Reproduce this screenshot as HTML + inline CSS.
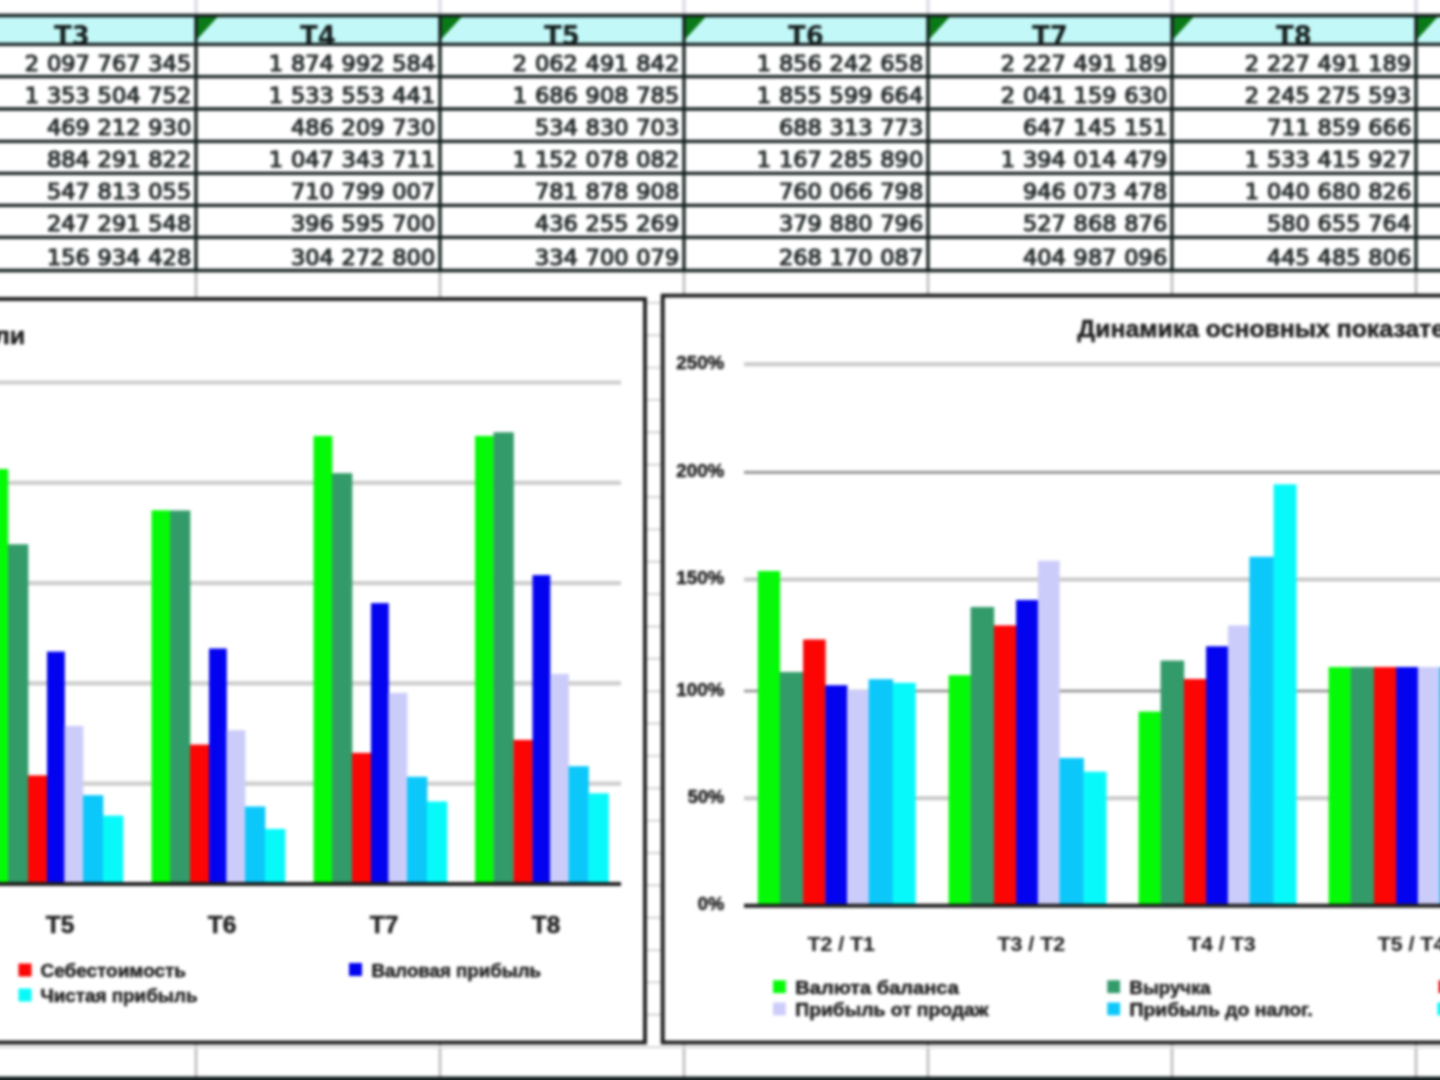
<!DOCTYPE html>
<html lang="ru"><head><meta charset="utf-8"><title>Sheet</title>
<style>
html,body{margin:0;padding:0;background:#fff;}
body{width:1440px;height:1080px;overflow:hidden;position:relative;}
svg{display:block;position:absolute;left:-30px;top:-30px;filter:blur(1.4px);}
</style></head><body>
<svg width="1500" height="1140" viewBox="-30 -30 1500 1140">
<rect x="-30" y="-30" width="1500" height="1140" fill="#fff"/>
<g stroke="#bcbcbc" stroke-width="2.6">
<line x1="196" y1="200" x2="196" y2="1110"/>
<line x1="440" y1="200" x2="440" y2="1110"/>
<line x1="684" y1="200" x2="684" y2="1110"/>
<line x1="928" y1="200" x2="928" y2="1110"/>
<line x1="1172" y1="200" x2="1172" y2="1110"/>
<line x1="1416" y1="200" x2="1416" y2="1110"/>
</g>
<g stroke="#e2dcea" stroke-width="3.6">
<line x1="196" y1="-30" x2="196" y2="14"/>
<line x1="440" y1="-30" x2="440" y2="14"/>
<line x1="684" y1="-30" x2="684" y2="14"/>
<line x1="928" y1="-30" x2="928" y2="14"/>
<line x1="1172" y1="-30" x2="1172" y2="14"/>
<line x1="1416" y1="-30" x2="1416" y2="14"/>
</g>
<g stroke="#dadada" stroke-width="2.4">
<line x1="-30" y1="302.9" x2="1470" y2="302.9"/>
<line x1="-30" y1="335.2" x2="1470" y2="335.2"/>
<line x1="-30" y1="367.6" x2="1470" y2="367.6"/>
<line x1="-30" y1="399.9" x2="1470" y2="399.9"/>
<line x1="-30" y1="432.3" x2="1470" y2="432.3"/>
<line x1="-30" y1="464.7" x2="1470" y2="464.7"/>
<line x1="-30" y1="497.0" x2="1470" y2="497.0"/>
<line x1="-30" y1="529.4" x2="1470" y2="529.4"/>
<line x1="-30" y1="561.7" x2="1470" y2="561.7"/>
<line x1="-30" y1="594.1" x2="1470" y2="594.1"/>
<line x1="-30" y1="626.5" x2="1470" y2="626.5"/>
<line x1="-30" y1="658.8" x2="1470" y2="658.8"/>
<line x1="-30" y1="691.2" x2="1470" y2="691.2"/>
<line x1="-30" y1="723.5" x2="1470" y2="723.5"/>
<line x1="-30" y1="755.9" x2="1470" y2="755.9"/>
<line x1="-30" y1="788.3" x2="1470" y2="788.3"/>
<line x1="-30" y1="820.6" x2="1470" y2="820.6"/>
<line x1="-30" y1="853.0" x2="1470" y2="853.0"/>
<line x1="-30" y1="885.3" x2="1470" y2="885.3"/>
<line x1="-30" y1="917.7" x2="1470" y2="917.7"/>
<line x1="-30" y1="950.1" x2="1470" y2="950.1"/>
<line x1="-30" y1="982.4" x2="1470" y2="982.4"/>
<line x1="-30" y1="1014.8" x2="1470" y2="1014.8"/>
<line x1="-30" y1="1047.1" x2="1470" y2="1047.1"/>
</g>
<rect x="-30" y="15.5" width="1500" height="255.0" fill="#fff"/>
<rect x="-30" y="15.5" width="1500" height="28.9" fill="#c2f9f8"/>
<polygon points="196,15.5 219,15.5 196,40.5" fill="#0a7a18"/>
<polygon points="440,15.5 463,15.5 440,40.5" fill="#0a7a18"/>
<polygon points="684,15.5 707,15.5 684,40.5" fill="#0a7a18"/>
<polygon points="928,15.5 951,15.5 928,40.5" fill="#0a7a18"/>
<polygon points="1172,15.5 1195,15.5 1172,40.5" fill="#0a7a18"/>
<polygon points="1416,15.5 1439,15.5 1416,40.5" fill="#0a7a18"/>
<g font-family="'DejaVu Sans','Liberation Sans',sans-serif" font-weight="bold" font-size="26" fill="#141c1c" text-anchor="middle">
<text x="72" y="45">T3</text>
<text x="318.0" y="45">T4</text>
<text x="562.0" y="45">T5</text>
<text x="806.0" y="45">T6</text>
<text x="1050.0" y="45">T7</text>
<text x="1294.0" y="45">T8</text>
</g>
<g font-family="'DejaVu Sans','Liberation Sans',sans-serif" font-size="22.5" fill="#262c2c" stroke="#262c2c" stroke-width="1.2" text-anchor="end" word-spacing="0.6">
<text transform="translate(191.2,70.7) scale(1,0.92)">2 097 767 345</text>
<text transform="translate(435.2,70.7) scale(1,0.92)">1 874 992 584</text>
<text transform="translate(679.2,70.7) scale(1,0.92)">2 062 491 842</text>
<text transform="translate(923.2,70.7) scale(1,0.92)">1 856 242 658</text>
<text transform="translate(1167.2,70.7) scale(1,0.92)">2 227 491 189</text>
<text transform="translate(1411.2,70.7) scale(1,0.92)">2 227 491 189</text>
<text transform="translate(191.2,103.0) scale(1,0.92)">1 353 504 752</text>
<text transform="translate(435.2,103.0) scale(1,0.92)">1 533 553 441</text>
<text transform="translate(679.2,103.0) scale(1,0.92)">1 686 908 785</text>
<text transform="translate(923.2,103.0) scale(1,0.92)">1 855 599 664</text>
<text transform="translate(1167.2,103.0) scale(1,0.92)">2 041 159 630</text>
<text transform="translate(1411.2,103.0) scale(1,0.92)">2 245 275 593</text>
<text transform="translate(191.2,135.3) scale(1,0.92)">469 212 930</text>
<text transform="translate(435.2,135.3) scale(1,0.92)">486 209 730</text>
<text transform="translate(679.2,135.3) scale(1,0.92)">534 830 703</text>
<text transform="translate(923.2,135.3) scale(1,0.92)">688 313 773</text>
<text transform="translate(1167.2,135.3) scale(1,0.92)">647 145 151</text>
<text transform="translate(1411.2,135.3) scale(1,0.92)">711 859 666</text>
<text transform="translate(191.2,167.4) scale(1,0.92)">884 291 822</text>
<text transform="translate(435.2,167.4) scale(1,0.92)">1 047 343 711</text>
<text transform="translate(679.2,167.4) scale(1,0.92)">1 152 078 082</text>
<text transform="translate(923.2,167.4) scale(1,0.92)">1 167 285 890</text>
<text transform="translate(1167.2,167.4) scale(1,0.92)">1 394 014 479</text>
<text transform="translate(1411.2,167.4) scale(1,0.92)">1 533 415 927</text>
<text transform="translate(191.2,199.4) scale(1,0.92)">547 813 055</text>
<text transform="translate(435.2,199.4) scale(1,0.92)">710 799 007</text>
<text transform="translate(679.2,199.4) scale(1,0.92)">781 878 908</text>
<text transform="translate(923.2,199.4) scale(1,0.92)">760 066 798</text>
<text transform="translate(1167.2,199.4) scale(1,0.92)">946 073 478</text>
<text transform="translate(1411.2,199.4) scale(1,0.92)">1 040 680 826</text>
<text transform="translate(191.2,231.4) scale(1,0.92)">247 291 548</text>
<text transform="translate(435.2,231.4) scale(1,0.92)">396 595 700</text>
<text transform="translate(679.2,231.4) scale(1,0.92)">436 255 269</text>
<text transform="translate(923.2,231.4) scale(1,0.92)">379 880 796</text>
<text transform="translate(1167.2,231.4) scale(1,0.92)">527 868 876</text>
<text transform="translate(1411.2,231.4) scale(1,0.92)">580 655 764</text>
<text transform="translate(191.2,265.3) scale(1,0.92)">156 934 428</text>
<text transform="translate(435.2,265.3) scale(1,0.92)">304 272 800</text>
<text transform="translate(679.2,265.3) scale(1,0.92)">334 700 079</text>
<text transform="translate(923.2,265.3) scale(1,0.92)">268 170 087</text>
<text transform="translate(1167.2,265.3) scale(1,0.92)">404 987 096</text>
<text transform="translate(1411.2,265.3) scale(1,0.92)">445 485 806</text>
</g>
<g stroke="#141e1e" stroke-width="3.3">
<line x1="-30" y1="15.5" x2="1470" y2="15.5"/>
<line x1="-30" y1="44.4" x2="1470" y2="44.4"/>
<line x1="-30" y1="76.7" x2="1470" y2="76.7"/>
<line x1="-30" y1="109" x2="1470" y2="109"/>
<line x1="-30" y1="141.3" x2="1470" y2="141.3"/>
<line x1="-30" y1="173.4" x2="1470" y2="173.4"/>
<line x1="-30" y1="205.4" x2="1470" y2="205.4"/>
<line x1="-30" y1="237.4" x2="1470" y2="237.4"/>
<line x1="-30" y1="270.5" x2="1470" y2="270.5"/>
<line x1="196" y1="15.5" x2="196" y2="270.5"/>
<line x1="440" y1="15.5" x2="440" y2="270.5"/>
<line x1="684" y1="15.5" x2="684" y2="270.5"/>
<line x1="928" y1="15.5" x2="928" y2="270.5"/>
<line x1="1172" y1="15.5" x2="1172" y2="270.5"/>
<line x1="1416" y1="15.5" x2="1416" y2="270.5"/>
</g>
<rect x="-60" y="299.0" width="705" height="743.5" fill="#fff" stroke="#1e1e1e" stroke-width="3.9"/>
<g stroke="#cdcdcd" stroke-width="4.2">
<line x1="-30" y1="783.7" x2="621" y2="783.7"/>
<line x1="-30" y1="683.4" x2="621" y2="683.4"/>
<line x1="-30" y1="583.1" x2="621" y2="583.1"/>
<line x1="-30" y1="482.8" x2="621" y2="482.8"/>
<line x1="-30" y1="382.5" x2="621" y2="382.5"/>
</g>
<rect x="-10.5" y="469.0" width="18.8" height="415.0" fill="#05fa08"/>
<rect x="8.0" y="544.3" width="20.3" height="339.7" fill="#339b69"/>
<rect x="28.0" y="775.4" width="19.3" height="108.6" fill="#fb0505"/>
<rect x="47.0" y="651.6" width="17.8" height="232.4" fill="#0303f0"/>
<rect x="64.5" y="725.9" width="18.8" height="158.1" fill="#ccccfa"/>
<rect x="83.0" y="795.2" width="20.3" height="88.8" fill="#0cc8fa"/>
<rect x="103.0" y="815.6" width="20.3" height="68.4" fill="#08f9fa"/>
<rect x="151.5" y="510.3" width="18.8" height="373.7" fill="#05fa08"/>
<rect x="170.0" y="510.5" width="20.3" height="373.5" fill="#339b69"/>
<rect x="190.0" y="744.6" width="19.3" height="139.4" fill="#fb0505"/>
<rect x="209.0" y="648.5" width="17.8" height="235.5" fill="#0303f0"/>
<rect x="226.5" y="730.2" width="18.8" height="153.8" fill="#ccccfa"/>
<rect x="245.0" y="806.5" width="20.3" height="77.5" fill="#0cc8fa"/>
<rect x="265.0" y="828.9" width="20.3" height="55.1" fill="#08f9fa"/>
<rect x="313.5" y="435.9" width="18.8" height="448.1" fill="#05fa08"/>
<rect x="332.0" y="473.2" width="20.3" height="410.8" fill="#339b69"/>
<rect x="352.0" y="752.9" width="19.3" height="131.1" fill="#fb0505"/>
<rect x="371.0" y="603.1" width="17.8" height="280.9" fill="#0303f0"/>
<rect x="388.5" y="692.9" width="18.8" height="191.1" fill="#ccccfa"/>
<rect x="407.0" y="776.8" width="20.3" height="107.2" fill="#0cc8fa"/>
<rect x="427.0" y="801.5" width="20.3" height="82.5" fill="#08f9fa"/>
<rect x="475.0" y="435.9" width="18.8" height="448.1" fill="#05fa08"/>
<rect x="493.5" y="432.3" width="20.3" height="451.7" fill="#339b69"/>
<rect x="513.5" y="739.9" width="19.3" height="144.1" fill="#fb0505"/>
<rect x="532.5" y="575.1" width="17.8" height="308.9" fill="#0303f0"/>
<rect x="550.0" y="673.9" width="18.8" height="210.1" fill="#ccccfa"/>
<rect x="568.5" y="766.2" width="20.3" height="117.8" fill="#0cc8fa"/>
<rect x="588.5" y="793.3" width="20.3" height="90.7" fill="#08f9fa"/>
<line x1="-30" y1="884.0" x2="621" y2="884.0" stroke="#1e1e1e" stroke-width="4"/>
<g font-family="'Liberation Sans',sans-serif" font-weight="bold" fill="#1e1e1e" stroke="#1e1e1e" stroke-width="0.5">
<text x="60" y="932.8" font-size="23.5" text-anchor="middle" textLength="28.5" lengthAdjust="spacingAndGlyphs">T5</text>
<text x="222" y="932.8" font-size="23.5" text-anchor="middle" textLength="28.5" lengthAdjust="spacingAndGlyphs">T6</text>
<text x="384" y="932.8" font-size="23.5" text-anchor="middle" textLength="28.5" lengthAdjust="spacingAndGlyphs">T7</text>
<text x="546" y="932.8" font-size="23.5" text-anchor="middle" textLength="28.5" lengthAdjust="spacingAndGlyphs">T8</text>
<text x="25" y="344" font-size="24" text-anchor="end" textLength="275.5" lengthAdjust="spacingAndGlyphs">Основные показатели</text>
<rect x="18.5" y="963.5" width="13" height="13" stroke="none" fill="#fb0505"/>
<text x="40.5" y="976.5" font-size="18.8" text-anchor="start" textLength="145.5" lengthAdjust="spacingAndGlyphs">Себестоимость</text>
<rect x="349" y="963" width="13" height="13" stroke="none" fill="#0303f0"/>
<text x="371.5" y="976.5" font-size="18.8" text-anchor="start" textLength="169.5" lengthAdjust="spacingAndGlyphs">Валовая прибыль</text>
<rect x="18.5" y="988.5" width="13" height="13" stroke="none" fill="#08f9fa"/>
<text x="40.5" y="1001.5" font-size="18.8" text-anchor="start" textLength="157.0" lengthAdjust="spacingAndGlyphs">Чистая прибыль</text>
</g>
<rect x="662.7" y="295.6" width="900" height="746.9" fill="#fff" stroke="#1e1e1e" stroke-width="3.9"/>
<line x1="744" y1="798.2" x2="1470" y2="798.2" stroke="#c8c8c8" stroke-width="4"/>
<line x1="744" y1="691.0" x2="1470" y2="691.0" stroke="#8c8c8c" stroke-width="2.6"/>
<line x1="744" y1="579.4" x2="1470" y2="579.4" stroke="#c8c8c8" stroke-width="4"/>
<line x1="744" y1="472.4" x2="1470" y2="472.4" stroke="#8c8c8c" stroke-width="2.6"/>
<line x1="744" y1="364.2" x2="1470" y2="364.2" stroke="#c8c8c8" stroke-width="4"/>
<rect x="757.8" y="571.0" width="22.3" height="334.8" fill="#05fa08"/>
<rect x="779.8" y="672.0" width="23.6" height="233.8" fill="#339b69"/>
<rect x="803.1" y="639.5" width="22.5" height="266.3" fill="#fb0505"/>
<rect x="825.3" y="685.2" width="22.1" height="220.6" fill="#0303f0"/>
<rect x="847.1" y="690.0" width="21.8" height="215.8" fill="#ccccfa"/>
<rect x="868.6" y="679.2" width="24.5" height="226.6" fill="#0cc8fa"/>
<rect x="892.8" y="682.8" width="22.9" height="223.0" fill="#08f9fa"/>
<rect x="948.6" y="675.2" width="22.3" height="230.6" fill="#05fa08"/>
<rect x="970.6" y="607.0" width="23.6" height="298.8" fill="#339b69"/>
<rect x="993.9" y="625.4" width="22.5" height="280.4" fill="#fb0505"/>
<rect x="1016.1" y="600.0" width="22.1" height="305.8" fill="#0303f0"/>
<rect x="1037.9" y="560.8" width="21.8" height="345.0" fill="#ccccfa"/>
<rect x="1059.4" y="758.0" width="24.5" height="147.8" fill="#0cc8fa"/>
<rect x="1083.6" y="771.7" width="22.9" height="134.1" fill="#08f9fa"/>
<rect x="1138.6" y="711.6" width="22.3" height="194.2" fill="#05fa08"/>
<rect x="1160.6" y="660.6" width="23.6" height="245.2" fill="#339b69"/>
<rect x="1183.9" y="679.0" width="22.5" height="226.8" fill="#fb0505"/>
<rect x="1206.1" y="646.3" width="22.1" height="259.5" fill="#0303f0"/>
<rect x="1227.9" y="625.4" width="21.8" height="280.4" fill="#ccccfa"/>
<rect x="1249.4" y="556.8" width="24.5" height="349.0" fill="#0cc8fa"/>
<rect x="1273.6" y="484.3" width="22.9" height="421.5" fill="#08f9fa"/>
<rect x="1328.6" y="667.0" width="22.3" height="238.8" fill="#05fa08"/>
<rect x="1350.6" y="667.0" width="23.6" height="238.8" fill="#339b69"/>
<rect x="1373.9" y="667.0" width="22.5" height="238.8" fill="#fb0505"/>
<rect x="1396.1" y="667.0" width="22.1" height="238.8" fill="#0303f0"/>
<rect x="1417.9" y="667.0" width="21.8" height="238.8" fill="#ccccfa"/>
<rect x="1439.4" y="667.0" width="24.5" height="238.8" fill="#0cc8fa"/>
<rect x="1463.6" y="667.0" width="22.9" height="238.8" fill="#08f9fa"/>
<line x1="744" y1="905.8" x2="1470" y2="905.8" stroke="#1e1e1e" stroke-width="4"/>
<g font-family="'Liberation Sans',sans-serif" font-weight="bold" fill="#1e1e1e" stroke="#1e1e1e" stroke-width="0.5">
<text x="724.3" y="910.4" font-size="18.5" text-anchor="end" textLength="26.5" lengthAdjust="spacingAndGlyphs">0%</text>
<text x="724.3" y="802.8" font-size="18.5" text-anchor="end" textLength="36.5" lengthAdjust="spacingAndGlyphs">50%</text>
<text x="724.3" y="695.6" font-size="18.5" text-anchor="end" textLength="48" lengthAdjust="spacingAndGlyphs">100%</text>
<text x="724.3" y="584.0" font-size="18.5" text-anchor="end" textLength="48" lengthAdjust="spacingAndGlyphs">150%</text>
<text x="724.3" y="477.0" font-size="18.5" text-anchor="end" textLength="48" lengthAdjust="spacingAndGlyphs">200%</text>
<text x="724.3" y="368.8" font-size="18.5" text-anchor="end" textLength="48" lengthAdjust="spacingAndGlyphs">250%</text>
<text x="841.2" y="951" font-size="19.5" text-anchor="middle" textLength="67.6" lengthAdjust="spacingAndGlyphs" stroke-width="0.1">T2 / T1</text>
<text x="1031.3" y="951" font-size="19.5" text-anchor="middle" textLength="67.6" lengthAdjust="spacingAndGlyphs" stroke-width="0.1">T3 / T2</text>
<text x="1221.8" y="951" font-size="19.5" text-anchor="middle" textLength="67.6" lengthAdjust="spacingAndGlyphs" stroke-width="0.1">T4 / T3</text>
<text x="1411.5" y="951" font-size="19.5" text-anchor="middle" textLength="67.6" lengthAdjust="spacingAndGlyphs" stroke-width="0.1">T5 / T4</text>
<text x="1077.5" y="337" font-size="24" text-anchor="start" textLength="412.0" lengthAdjust="spacingAndGlyphs">Динамика основных показателей</text>
<rect x="773" y="980.3000000000001" width="12.8" height="12.8" stroke="none" fill="#05fa08"/>
<text x="795.3" y="993.6" font-size="18.8" text-anchor="start" textLength="163.5" lengthAdjust="spacingAndGlyphs">Валюта баланса</text>
<rect x="773" y="1002.5" width="12.8" height="12.8" stroke="none" fill="#ccccfa"/>
<text x="795.3" y="1015.8" font-size="18.8" text-anchor="start" textLength="193.1" lengthAdjust="spacingAndGlyphs">Прибыль от продаж</text>
<rect x="1107.3" y="980.3000000000001" width="12.8" height="12.8" stroke="none" fill="#339b69"/>
<text x="1129.6" y="993.6" font-size="18.8" text-anchor="start" textLength="81.0" lengthAdjust="spacingAndGlyphs">Выручка</text>
<rect x="1107.3" y="1002.5" width="12.8" height="12.8" stroke="none" fill="#0cc8fa"/>
<text x="1129.6" y="1015.8" font-size="18.8" text-anchor="start" textLength="183.0" lengthAdjust="spacingAndGlyphs">Прибыль до налог.</text>
<rect x="1438.6" y="980.3000000000001" width="12.8" height="12.8" stroke="none" fill="#fb0505"/>
<text x="1460.8999999999999" y="993.6" font-size="18.8" text-anchor="start" textLength="145.5" lengthAdjust="spacingAndGlyphs">Себестоимость</text>
<rect x="1437.4" y="1002.5" width="12.8" height="12.8" stroke="none" fill="#08f9fa"/>
<text x="1459.7" y="1015.8" font-size="18.8" text-anchor="start" textLength="157.0" lengthAdjust="spacingAndGlyphs">Чистая прибыль</text>
</g>
<rect x="-30" y="1076.5" width="1500" height="40" fill="#141e1e"/>
</svg>
</body></html>
